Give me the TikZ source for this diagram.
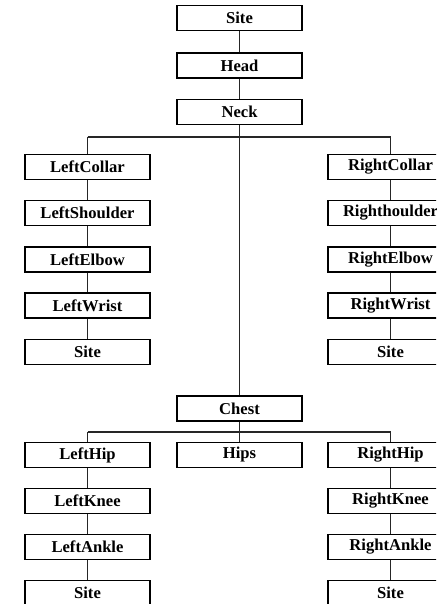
\documentclass[tikz,border=0pt]{standalone}
\usepackage{fontspec}
\setmainfont{Liberation Serif}
\begin{document}
\begin{tikzpicture}[x=1pt,y=-1pt,
  joint/.style={draw=black,line width=1.1pt,fill=white,minimum width=125pt,minimum height=25pt,inner sep=0pt,font=\fontsize{16.6}{20}\selectfont\bfseries},
  link/.style={draw=black!85,line width=1.1pt}]
\useasboundingbox (0,0) rectangle (436,604);
\clip (0,0) rectangle (436,604);
% nodes
\node[joint] (site0) at (239.5,18) {Site};
\node[joint] (head) at (239.5,65.5) {Head};
\node[joint] (neck) at (239.5,112) {Neck};
\node[joint] (lcollar) at (87.5,167) {LeftCollar};
\node[joint] (lshoulder) at (87.5,213) {LeftShoulder};
\node[joint] (lelbow) at (87.5,259.5) {LeftElbow};
\node[joint] (lwrist) at (87.5,305.5) {LeftWrist};
\node[joint] (lsite) at (87.5,352) {Site};
\node[joint] (rcollar) at (390.5,167) {RightCollar};
\node[joint] (rshoulder) at (390.5,213) {Righthoulder};
\node[joint] (relbow) at (390.5,259.5) {RightElbow};
\node[joint] (rwrist) at (390.5,305.5) {RightWrist};
\node[joint] (rsite) at (390.5,352) {Site};
\node[joint] (chest) at (239.5,408.5) {Chest};
\node[joint] (lhip) at (87.5,455) {LeftHip};
\node[joint] (hips) at (239.5,455) {Hips};
\node[joint] (rhip) at (390.5,455) {RightHip};
\node[joint] (lknee) at (87.5,501) {LeftKnee};
\node[joint] (lankle) at (87.5,547) {LeftAnkle};
\node[joint] (lfoot) at (87.5,593) {Site};
\node[joint] (rknee) at (390.5,501) {RightKnee};
\node[joint] (rankle) at (390.5,547) {RightAnkle};
\node[joint] (rfoot) at (390.5,593) {Site};
% branch points
\coordinate (lsplit) at (87.5,137);
\coordinate (rsplit) at (390.5,137);
\coordinate (lhsplit) at (87.5,432);
\coordinate (rhsplit) at (390.5,432);
% links
\draw[link] (site0) -- (head);
\draw[link] (head) -- (neck);
\draw[link] (neck) -- (chest);
\draw[link] (lsplit) -- (rsplit);
\draw[link] (lsplit) -- (lcollar);
\draw[link] (lcollar) -- (lshoulder);
\draw[link] (lshoulder) -- (lelbow);
\draw[link] (lelbow) -- (lwrist);
\draw[link] (lwrist) -- (lsite);
\draw[link] (rsplit) -- (rcollar);
\draw[link] (rcollar) -- (rshoulder);
\draw[link] (rshoulder) -- (relbow);
\draw[link] (relbow) -- (rwrist);
\draw[link] (rwrist) -- (rsite);
\draw[link] (lhsplit) -- (rhsplit);
\draw[link] (chest) -- (hips);
\draw[link] (lhsplit) -- (lhip);
\draw[link] (lhip) -- (lknee);
\draw[link] (lknee) -- (lankle);
\draw[link] (lankle) -- (lfoot);
\draw[link] (rhsplit) -- (rhip);
\draw[link] (rhip) -- (rknee);
\draw[link] (rknee) -- (rankle);
\draw[link] (rankle) -- (rfoot);
\end{tikzpicture}
\end{document}
